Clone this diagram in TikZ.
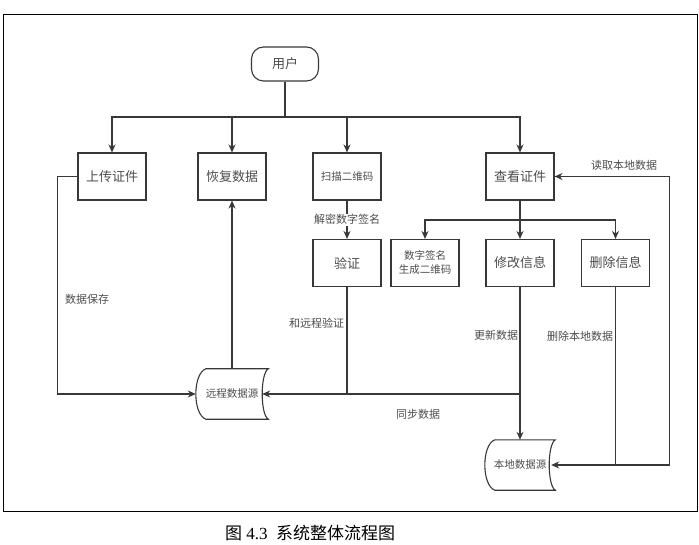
\documentclass[tikz,border=0pt]{standalone}
\usepackage{fontspec}
\setmainfont{Liberation Serif}
\newfontfamily\cjk{Noto Sans CJK SC}
\usetikzlibrary{arrows.meta,calc,positioning}
\newcommand{\clrline}{black!78}
\newcommand{\clrtext}{black!70}

\tikzset{
  box/.style={draw=\clrline, line width=1.1pt, minimum width=68pt, minimum height=47pt,
    inner sep=0pt, text=\clrtext, font=\cjk\fontsize{13}{15}\selectfont},
  smallbox/.style={box, align=center, font=\cjk\fontsize{10.5}{14}\selectfont},
  terminal/.style={box, rounded corners=12pt, minimum width=67pt, minimum height=34pt},
  store/.style={minimum width=#1, minimum height=50pt, inner sep=0pt, text=\clrtext,
    font=\cjk\fontsize{10.5}{12}\selectfont},
  lbl/.style={text=\clrtext, inner sep=1pt, font=\cjk\fontsize{11}{13}\selectfont},
  wire/.style={draw=\clrline, line width=1.1pt},
  link/.style={wire, -{Stealth[length=8pt,width=7pt]}}
}

% data storage outline round a store node
\newcommand{\storeshape}[1]{%
  \draw[wire] ($(#1.north west)+(10,0)$) -- (#1.north east)
    .. controls ($(#1.north east)+(-8,5)$) and ($(#1.south east)+(-8,-5)$) .. (#1.south east)
    -- ($(#1.south west)+(10,0)$)
    .. controls ($(#1.south west)+(-3.3,-5)$) and ($(#1.north west)+(-3.3,5)$) .. cycle;}

\begin{document}
\begin{tikzpicture}[x=1pt,y=-1pt]

    \useasboundingbox (0,0) rectangle (699,545);
    \draw[line width=0.8pt] (3,14) rectangle (697,511);

    \node[terminal] (user) at (285,64) {用户};

    \node[box] (upload) at (112,176.5) {上传证件};
    \node[box] (restore) at (232,176.5) {恢复数据};
    \node[smallbox] (scan) at (347,176.5) {扫描二维码};
    \node[box] (view) at (520,176.5) {查看证件};

    \node[box] (verify) at (347,263) {验证};
    \node[smallbox] (sign) at (425,263) {数字签名\\生成二维码};
    \node[box] (edit) at (520,263) {修改信息};
    \node[box] (delete) at (615.5,263) {删除信息};

    \node[store=72pt] (remote) at (232,394) {远程数据源};
    \node[store=70pt] (local) at (520,465) {本地数据源};
    \storeshape{remote}
    \storeshape{local}

    \coordinate (split) at (285,117);
    \coordinate (fork) at (520,220);
    \coordinate (sync) at (520,394);

    \draw[wire] (user) -- (split);
    \draw[link] (split) -| (upload);
    \draw[link] (split) -| (restore);
    \draw[link] (split) -| (scan);
    \draw[link] (split) -| (view);

    \draw[link] (view) -- (edit);
    \draw[wire] (view.south |- fork) -- (fork);
    \draw[link] (fork) -| (sign);
    \draw[link] (fork) -| (delete);

    \draw[link] (scan) -- node[lbl, fill=white] (decryptlbl) {解密数字签名} (verify);
    \draw[link] (upload.west) -- ++(-20,0) |- (remote.west);
    \draw[link] (remote) -- (restore);
    \draw[link] (verify) |- ([xshift=-6pt]remote.east);
    \draw[wire] (sync) -- (verify |- sync);
    \draw[link] (edit) -- (local);
    \draw[link] (delete) |- ([xshift=-4pt]local.east);
    \draw[link] (delete |- local.east) -- ++(54,0) |- (view.east);

    \node[lbl] (savelbl) at (87,299) {数据保存};
    \node[lbl] (checklbl) at (316.5,323) {和远程验证};
    \node[lbl] (updatelbl) at (496,335) {更新数据};
    \node[lbl] (removelbl) at (580,336) {删除本地数据};
    \node[lbl] (synclbl) at (418,414) {同步数据};
    \node[lbl] (readlbl) at (624,165) {读取本地数据};

    \node[font=\fontsize{17}{20}\selectfont] (caption) at (310,533) {{\cjk 图}~4.3~~{\cjk 系统整体流程图}};

\end{tikzpicture}
\end{document}
